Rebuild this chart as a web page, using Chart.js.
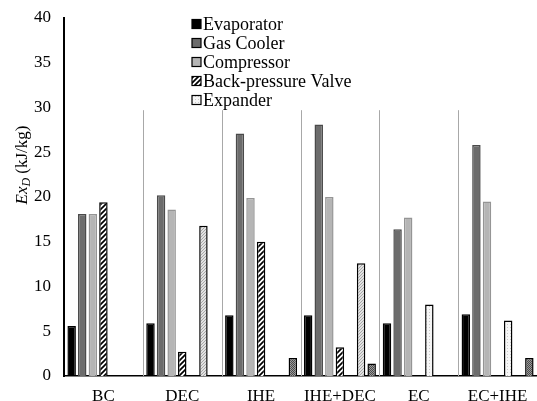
<!DOCTYPE html>
<html>
<head>
<meta charset="utf-8">
<script src="https://cdn.jsdelivr.net/npm/chart.js@4.4.0/dist/chart.umd.min.js"></script>
<style>
html, body { margin: 0; padding: 0; background: #fff; }
#wrap { width: 537px; height: 401px; }
</style>
</head>
<body>
<div id="wrap"><canvas id="chart"></canvas></div>
<script>
const cycles = ["BC", "DEC", "IHE", "IHE+DEC", "EC", "EC+IHE"];
const evaporator = [5.6, 5.9, 6.8, 6.8, 5.9, 6.9];
const gasCooler = [18.1, 20.2, 27.1, 28.1, 16.4, 25.8];
const compressor = [18.1, 18.6, 19.9, 20.0, 17.7, 19.5];
const backPressureValve = [19.4, 2.7, 15.0, 3.2, null, null];
const expander = [null, null, null, null, 8.0, 6.2];
const ejector = [null, 16.8, null, 12.6, null, null];
const internalHX = [null, null, 2.0, 1.4, null, 2.0];

const SERIF = "'Liberation Serif', 'DejaVu Serif', serif";

function makePattern(size, draw)
{
    const c = document.createElement("canvas");
    c.width = size;
    c.height = size;
    const ctx = c.getContext("2d");
    draw(ctx, size);
    return ctx.createPattern(c, "repeat");
}

// black diagonal stripes on white
const stripes = makePattern(5, (ctx, s) =>
{
    ctx.fillStyle = "#fff";
    ctx.fillRect(0, 0, s, s);
    ctx.strokeStyle = "#000";
    ctx.lineWidth = 1.7;
    ctx.beginPath();
    ctx.moveTo(-1, s + 1); ctx.lineTo(s + 1, -1);
    ctx.moveTo(-1, 1); ctx.lineTo(1, -1);
    ctx.moveTo(s - 1, s + 1); ctx.lineTo(s + 1, s - 1);
    ctx.stroke();
});

// pale dots
const paleDots = makePattern(3, (ctx, s) =>
{
    ctx.fillStyle = "#f6f6f6";
    ctx.fillRect(0, 0, s, s);
    ctx.fillStyle = "#c9c9c9";
    ctx.fillRect(0, 0, 1, 1);
});

// light grey fine hatch
const greyHatch = makePattern(3, (ctx, s) =>
{
    ctx.fillStyle = "#e2e2e2";
    ctx.fillRect(0, 0, s, s);
    ctx.fillStyle = "#a8a8a8";
    ctx.fillRect(2, 0, 1, 1);
    ctx.fillRect(1, 1, 1, 1);
    ctx.fillRect(0, 2, 1, 1);
});

// dark checker dots
const darkDots = makePattern(2, (ctx, s) =>
{
    ctx.fillStyle = "#9a9a9a";
    ctx.fillRect(0, 0, s, s);
    ctx.fillStyle = "#4a4a4a";
    ctx.fillRect(0, 0, 1, 1);
    ctx.fillRect(1, 1, 1, 1);
});

// grey lines between the cycle groups
const separators = {
    id: "separators",
    beforeDatasetsDraw(chart)
    {
        const { ctx } = chart;
        const xs = chart.scales.x;
        const ys = chart.scales.y;
        ctx.save();
        ctx.strokeStyle = "#a8a8a8";
        ctx.lineWidth = 1;
        for (let i = 0; i < cycles.length - 1; i++)
        {
            const x = Math.round((xs.getPixelForValue(i) + xs.getPixelForValue(i + 1)) / 2) + 0.5;
            ctx.beginPath();
            ctx.moveTo(x, ys.getPixelForValue(29.7));
            ctx.lineTo(x, ys.bottom);
            ctx.stroke();
        }
        ctx.restore();
    }
};

// vertical legend on top of the plot + axis title with subscript
const extras = {
    id: "extras",
    afterDraw(chart)
    {
        const { ctx } = chart;
        ctx.save();
        ctx.textBaseline = "middle";
        ctx.font = "18px " + SERIF;
        chart.data.datasets.forEach((ds, i) =>
        {
            if (!ds.inLegend) return;
            const y = 24 + i * 19;
            ctx.fillStyle = ds.backgroundColor;
            ctx.fillRect(192, y - 4.5, 9, 9);
            ctx.strokeStyle = "#000";
            ctx.lineWidth = 1.2;
            ctx.strokeRect(192, y - 4.5, 9, 9);
            ctx.fillStyle = "#000";
            ctx.fillText(ds.label, 203, y + 1);
        });

        ctx.translate(23, 165);
        ctx.rotate(-Math.PI / 2);
        const big = "italic 17px " + SERIF;
        const sub = "italic 12px " + SERIF;
        const reg = "17px " + SERIF;
        ctx.font = big; const w1 = ctx.measureText("Ex").width;
        ctx.font = sub; const w2 = ctx.measureText("D").width;
        ctx.font = reg; const w3 = ctx.measureText(" (kJ/kg)").width;
        let x = -(w1 + w2 + w3) / 2;
        ctx.fillStyle = "#000";
        ctx.textAlign = "left";
        ctx.font = big; ctx.fillText("Ex", x, 0); x += w1;
        ctx.font = sub; ctx.fillText("D", x, 4); x += w2;
        ctx.font = reg; ctx.fillText(" (kJ/kg)", x, 0);
        ctx.restore();
    }
};

new Chart(document.getElementById("chart"), {
    type: "bar",
    data: {
        labels: cycles,
        datasets: [
            { label: "Evaporator", data: evaporator, backgroundColor: "#000", borderColor: "#000", inLegend: true },
            { label: "Gas Cooler", data: gasCooler, backgroundColor: "#6c6c6c", borderColor: "#4a4a4a", inLegend: true },
            { label: "Compressor", data: compressor, backgroundColor: "#b5b5b5", borderColor: "#959595", inLegend: true },
            { label: "Back-pressure Valve", data: backPressureValve, backgroundColor: stripes, borderColor: "#000", inLegend: true },
            { label: "Expander", data: expander, backgroundColor: paleDots, borderColor: "#000", inLegend: true },
            { label: "Ejector", data: ejector, backgroundColor: greyHatch, borderColor: "#000", inLegend: false },
            { label: "IHE", data: internalHX, backgroundColor: darkDots, borderColor: "#000", inLegend: false }
        ]
    },
    options: {
        responsive: true,
        maintainAspectRatio: false,
        animation: false,
        layout: { padding: { top: 18, right: 0, left: 0, bottom: 0 } },
        datasets: {
            bar: {
                borderWidth: 1.5,
                categoryPercentage: 0.94,
                barPercentage: 0.8
            }
        },
        plugins: {
            legend: { display: false },
            tooltip: { enabled: false }
        },
        scales: {
            x: {
                grid: { display: false, tickLength: 8 },
                border: { color: "#000", width: 1.5 },
                ticks: { color: "#000", font: { family: SERIF, size: 17 }, padding: 2 },
                afterFit: (scale) => { scale.height = 25; }
            },
            y: {
                min: 0,
                max: 40,
                grid: { display: false, tickLength: 10 },
                border: { color: "#000", width: 2 },
                ticks: { stepSize: 5, color: "#000", font: { family: SERIF, size: 17 }, padding: 3 },
                afterFit: (scale) => { scale.width = 64; }
            }
        }
    },
    plugins: [separators, extras]
});
</script>
</body>
</html>
